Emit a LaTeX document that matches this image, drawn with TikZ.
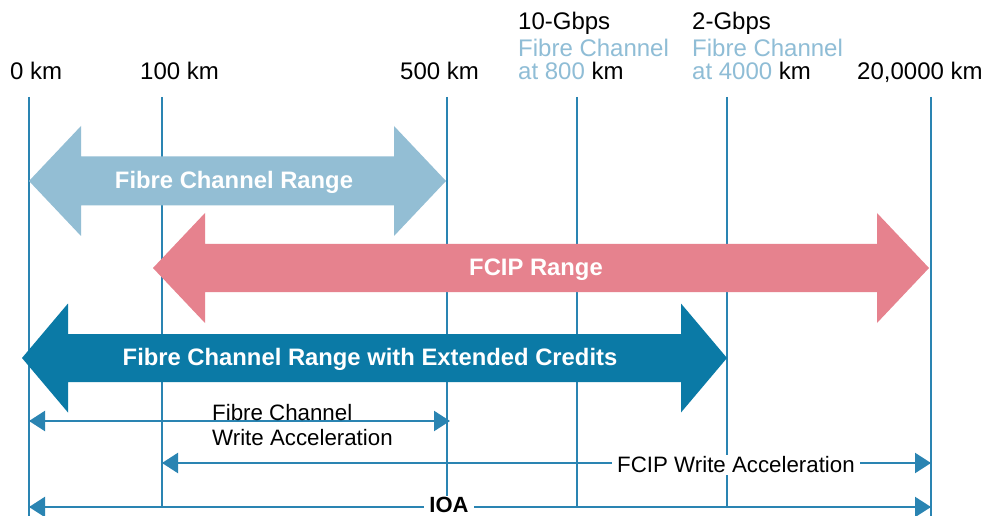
\documentclass[tikz,border=0pt]{standalone}
\usepackage{fontspec}
\setmainfont{Liberation Sans}
\usetikzlibrary{arrows.meta}
\definecolor{lightarr}{HTML}{93BED4}
\definecolor{pinkarr}{HTML}{E6828E}
\definecolor{darkarr}{HTML}{0B7AA6}
\definecolor{linec}{HTML}{2A84B2}
\definecolor{labelblue}{HTML}{8FBDD6}
\newcommand\fatdoublearrow[7]{% color, x1, x2, yc, headlen, headhalf, shafthalf
  \fill[#1] (#2,#4) -- ({#2+#5},{#4-#6}) -- ({#2+#5},{#4-#7}) -- ({#3-#5},{#4-#7})
    -- ({#3-#5},{#4-#6}) -- (#3,#4) -- ({#3-#5},{#4+#6}) -- ({#3-#5},{#4+#7})
    -- ({#2+#5},{#4+#7}) -- ({#2+#5},{#4+#6}) -- cycle;}
\tikzset{
  toplabel/.style={anchor=base west, inner sep=0pt, font=\fontsize{24}{25}\selectfont},
  lowlabel/.style={anchor=base west, inner sep=0pt, font=\fontsize{22.3}{25}\selectfont},
  bandlabel/.style={text=white, inner sep=0pt, font=\fontsize{23.8}{26}\selectfont\bfseries},
  tick/.style={draw=linec, line width=2pt},
  span/.style={draw=linec, line width=2.2pt, {Triangle[length=16pt,width=20pt]}-{Triangle[length=16pt,width=20pt]}},
  gaplabel/.style={fill=white, inner xsep=5pt, inner ysep=2pt}
}
\begin{document}
\begin{tikzpicture}[x=1pt,y=-1pt]
\useasboundingbox[fill=white] (0,0) rectangle (989,516);
% tick coordinates
\coordinate (t0) at (29,97);    \coordinate (b0) at (29,516);
\coordinate (t1) at (162,97);   \coordinate (b1) at (162,507);
\coordinate (t2) at (447,97);   \coordinate (b2) at (447,507);
\coordinate (t3) at (577,97);   \coordinate (b3) at (577,507);
\coordinate (t4) at (727,97);   \coordinate (b4) at (727,507);
\coordinate (t5) at (931,97);   \coordinate (b5) at (931,516);
\foreach \i in {0,...,5} { \draw[tick] (t\i) -- (b\i); }
% top labels
\node[toplabel] (l0) at (10,80) {0 km};
\node[toplabel] (l1) at (140,80) {100 km};
\node[toplabel] (l2) at (400,80) {500 km};
\node[toplabel] (l3a) at (518,30) {10-Gbps};
\node[toplabel, text=labelblue] (l3b) at (518,57) {Fibre Channel};
\node[toplabel] (l3c) at (518,80) {\textcolor{labelblue}{at 800} km};
\node[toplabel] (l4a) at (692,30) {2-Gbps};
\node[toplabel, text=labelblue] (l4b) at (692,57) {Fibre Channel};
\node[toplabel] (l4c) at (692,80) {\textcolor{labelblue}{at 4000} km};
\node[toplabel] (l5) at (857,80) {20,0000 km};
% big arrows
\fatdoublearrow{lightarr}{29}{446}{181}{52}{55}{24.5}
\fatdoublearrow{pinkarr}{153}{929}{268}{52}{55}{24}
\fatdoublearrow{darkarr}{22}{727}{358}{46}{54.5}{24}
\node[bandlabel] (fcr) at (234,182) {Fibre Channel Range};
\node[bandlabel] (fcipr) at (536,270) {FCIP Range};
\node[bandlabel] (fcext) at (370,359) {Fibre Channel Range with Extended Credits};
% thin span arrows
\coordinate (fcwaL) at (29,421);  \coordinate (fcwaR) at (450,421);
\coordinate (fipL) at (162,463);  \coordinate (fipR) at (931,463);
\coordinate (ioaL) at (29,507);   \coordinate (ioaR) at (931,507);
\draw[span] (fcwaL) -- (fcwaR);
\draw[span] (fipL) -- (fipR);
\draw[span] (ioaL) -- (ioaR);
\node[lowlabel] (fcwa1) at (212,420) {Fibre Channel};
\node[lowlabel] (fcwa2) at (212,445) {Write Acceleration};
\node[gaplabel, font=\fontsize{22.3}{25}\selectfont] (fipwa) at (736,465) {FCIP Write Acceleration};
\node[fill=white, inner xsep=5.5pt, inner ysep=1pt, anchor=base, font=\fontsize{22}{24}\selectfont\bfseries] (ioa) at (449,512) {IOA};
\end{tikzpicture}
\end{document}
